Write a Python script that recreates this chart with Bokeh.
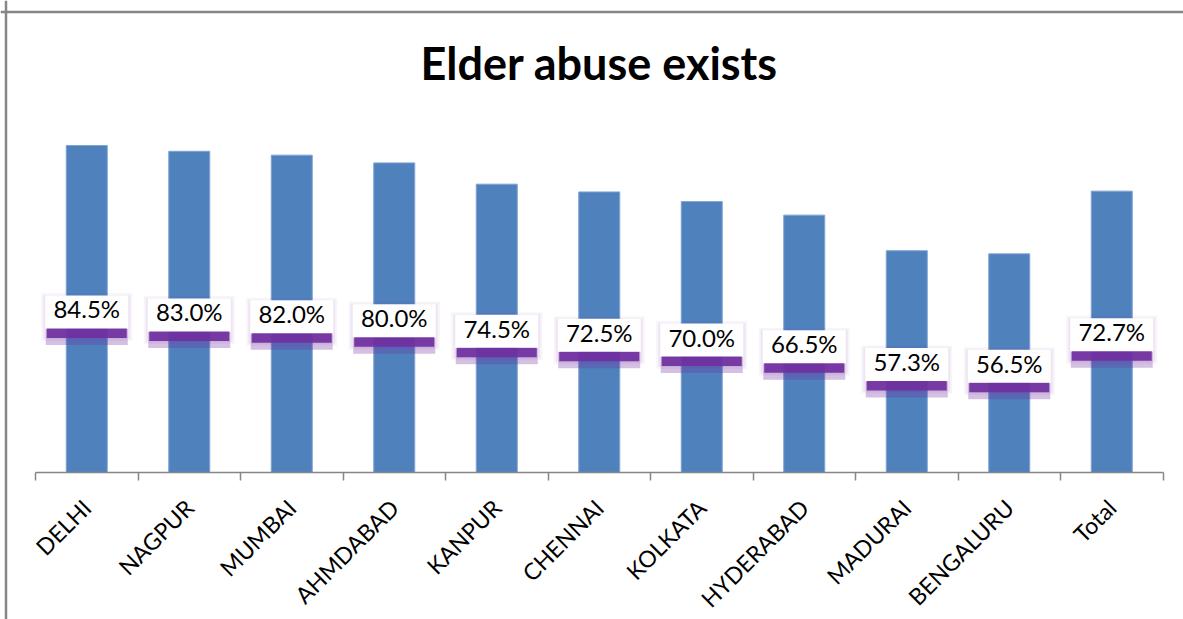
import math
from bokeh.plotting import figure
from bokeh.models import (LinearAxis, FixedTicker, Span, Label, Range1d, ColumnDataSource)
from bokeh.core.properties import value
from bokeh.embed import file_html
from bokeh.resources import INLINE

# ---- data ----
cities = ["DELHI", "NAGPUR", "MUMBAI", "AHMDABAD", "KANPUR", "CHENNAI",
          "KOLKATA", "HYDERABAD", "MADURAI", "BENGALURU", "Total"]
percent = [84.5, 83.0, 82.0, 80.0, 74.5, 72.5, 70.0, 66.5, 57.3, 56.5, 72.7]
label_text = ["%.1f%%" % v for v in percent]
title_text = "Elder abuse exists"

# ---- layout constants (pixels) ----
W, H = 1183, 619
CW = 102.5          # category width in px
X0 = 35.0           # first category boundary in px
Y0 = 472.0          # baseline in px
PPU = 3.87          # px per percent
x_start = (0 - (X0 + CW / 2)) / CW
x_end = (W - (X0 + CW / 2)) / CW
y_start = -(H - Y0) / PPU
y_end = Y0 / PPU

def dy(px):
    return -px / PPU

xs = list(range(len(cities)))
half = [v / 2 for v in percent]
src = ColumnDataSource(dict(
    x=xs, top=percent, lab=label_text,
    ytext=half,
    ybox=[h + dy(3) for h in half],
    yband=[h + dy(24) for h in half],
    yband2=[h + dy(28) for h in half],
    yglow=[h + dy(8) for h in half],
))

p = figure(width=W, height=H, output_backend="svg", toolbar_location=None,
           x_range=Range1d(x_start, x_end), y_range=Range1d(y_start, y_end),
           x_axis_location=None, y_axis_location=None,
           min_border=0, min_border_left=0, min_border_right=0,
           min_border_top=0, min_border_bottom=0,
           outline_line_color=None, background_fill_color="white",
           border_fill_color="white")
p.xgrid.visible = False
p.ygrid.visible = False

# chart-area border (left & top)
p.add_layout(Span(location=(5.5 - (X0 + CW / 2)) / CW, dimension="height",
                  line_color="#868686", line_width=2.5))
p.add_layout(Span(location=(Y0 - 11.5) / PPU, dimension="width",
                  line_color="#868686", line_width=2.5))

# bars
p.vbar(x="x", top="top", bottom=0, width=0.40, source=src,
       fill_color="#4F81BD", line_color="#7fa3d2", line_width=1)

# label boxes with purple glow
p.rect(x="x", y="yglow", width=91, height=48, width_units="screen",
       height_units="screen", source=src, fill_color="#7030A0",
       fill_alpha=0.05, line_color=None)
p.rect(x="x", y="yglow", width=87, height=44, width_units="screen",
       height_units="screen", source=src, fill_color="#7030A0",
       fill_alpha=0.07, line_color=None)
p.rect(x="x", y="yband2", width=82, height=16, width_units="screen",
       height_units="screen", source=src, fill_color="#7030A0",
       fill_alpha=0.30, line_color=None)
p.rect(x="x", y="yband", width=80, height=10, width_units="screen",
       height_units="screen", source=src, fill_color="#7030A0",
       fill_alpha=0.92, line_color=None)
p.rect(x="x", y="ybox", width=83, height=33, width_units="screen",
       height_units="screen", source=src, fill_color="white",
       line_color=None)
p.text(x="x", y="ytext", text="lab", source=src, text_align="center",
       text_baseline="middle", text_font=value("Lato"),
       text_font_size="24px", text_color="black")

# axis with ticks at category boundaries
tick_axis = LinearAxis(fixed_location=0,
                       ticker=FixedTicker(ticks=[i - 0.5 for i in range(len(cities) + 1)]),
                       bounds=(-0.5, len(cities) - 0.5),
                       axis_line_color="#868686", axis_line_width=1.5,
                       major_tick_line_color="#868686", major_tick_line_width=1.5,
                       major_tick_in=0, major_tick_out=8,
                       minor_tick_line_color=None,
                       major_label_text_color=None,
                       major_label_text_font_size="1px")
p.add_layout(tick_axis, "below")

# axis with category labels at centres
label_axis = LinearAxis(fixed_location=0,
                        ticker=FixedTicker(ticks=xs),
                        major_label_overrides={i: c for i, c in zip(xs, cities)},
                        axis_line_color=None, major_tick_line_color=None,
                        minor_tick_line_color=None,
                        major_tick_in=0, major_tick_out=0,
                        major_label_orientation=math.pi / 4,
                        major_label_standoff=31,
                        major_label_text_font="Lato",
                        major_label_text_font_size="23px",
                        major_label_text_color="black")
p.add_layout(label_axis, "below")

p.add_layout(Label(x=5, y=(Y0 - 62) / PPU, text=title_text,
                   text_font="Lato", text_font_style="bold",
                   text_font_size="45px", text_align="center",
                   text_baseline="middle", text_color="black"))

open("out.html", "w").write(file_html(p, INLINE))
